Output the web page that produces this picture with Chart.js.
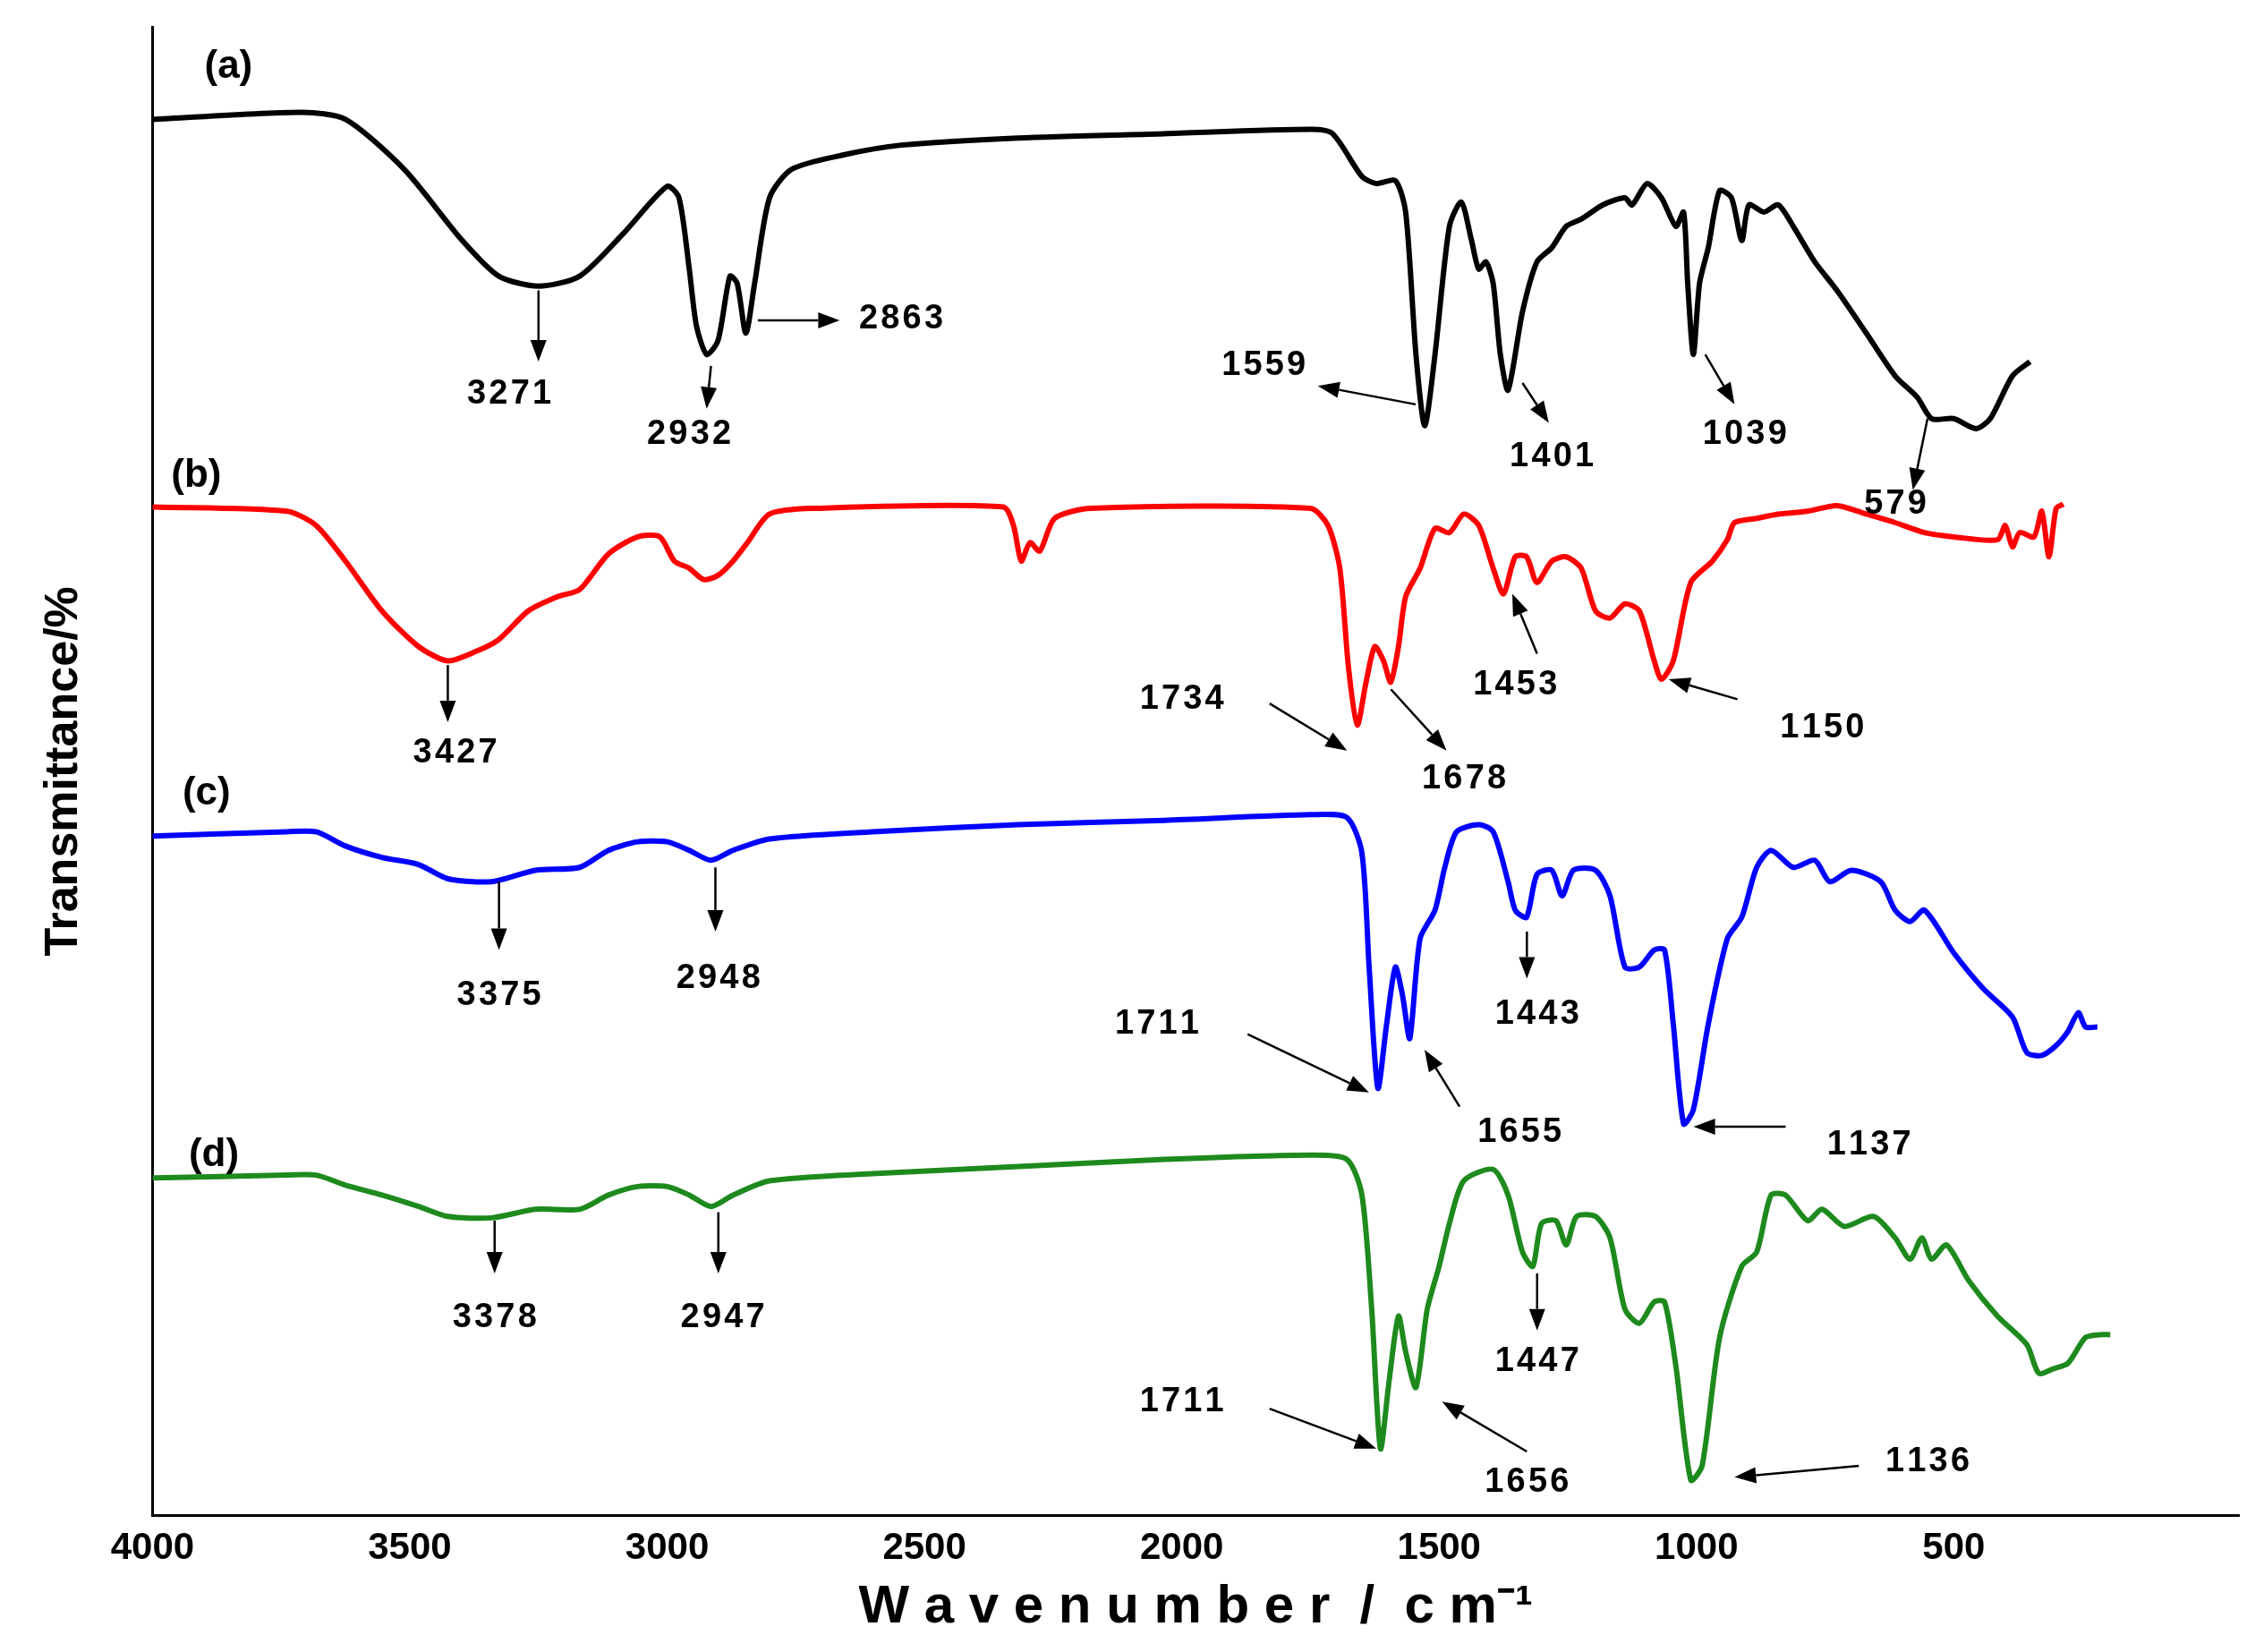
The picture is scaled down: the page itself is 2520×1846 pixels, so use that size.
<!DOCTYPE html>
<html><head><meta charset="utf-8">
<script src="https://cdn.jsdelivr.net/npm/chart.js@4/dist/chart.umd.min.js"></script>
<style>html,body{margin:0;padding:0;background:#fff}#w{width:2520px;height:1846px}</style>
</head><body><div id="w"><canvas id="c"></canvas></div>
<script>
const waveA=[4000,3710,3625,3511,3398,3327,3250,3170,3085,3000,2977,2957,2943,2923,2901,2878,2864,2847,2830,2801,2758,2659,2545,2318,2034,1750,1707,1650,1622,1585,1565,1545,1528,1508,1480,1457,1437,1423,1409,1395,1381,1366,1338,1310,1281,1253,1224,1182,1139,1125,1096,1068,1040,1025,1017,1006,994,977,955,932,912,898,869,841,812,770,727,670,614,571,543,500,457,429,386,352];
const transA=[980,985,980,945,895,870,863,870,900,933,925,875,835,815,825,870,865,830,865,925,945,955,962,967,970,973,970,940,935,937,915,815,765,815,905,922,895,875,880,865,815,790,845,880,890,905,910,920,925,920,935,925,905,915,865,815,865,890,930,925,895,920,915,920,905,880,860,830,800,785,770,770,763,770,800,810];
const waveB=[4000,3739,3682,3625,3554,3483,3426,3369,3327,3270,3213,3170,3114,3057,3014,2986,2957,2929,2901,2872,2844,2801,2716,2347,2327,2312,2295,2276,2247,2176,1750,1716,1693,1676,1659,1642,1625,1608,1594,1579,1565,1537,1508,1480,1452,1423,1395,1375,1352,1330,1310,1281,1253,1224,1196,1168,1139,1111,1082,1068,1045,1011,969,940,926,883,841,784,727,670,614,557,500,415,400,386,372,344,329,315,301,287];
const transB=[708,705,695,670,635,610,600,607,615,635,645,650,675,687,687,670,665,657,660,670,683,703,707,708,695,670,683,677,700,707,707,695,665,595,555,585,610,600,585,610,645,665,693,690,703,695,665,647,673,673,655,670,673,665,635,630,640,635,600,587,600,655,670,685,697,700,703,705,709,703,697,690,687,685,695,680,690,687,705,673,707,710];
const waveC=[4000,3739,3682,3625,3554,3483,3426,3341,3256,3170,3114,3057,3000,2957,2915,2872,2801,2602,2318,2034,1750,1679,1650,1636,1619,1602,1585,1571,1557,1537,1508,1489,1466,1423,1395,1366,1352,1330,1310,1281,1261,1239,1196,1168,1139,1111,1082,1062,1045,1025,1006,977,940,912,883,855,812,770,741,699,642,614,585,557,500,443,386,358,329,301,278,258,244,221];
const transC=[477,480,480,470,462,457,447,445,453,455,467,473,473,467,460,467,475,480,485,488,492,490,465,385,300,345,385,365,335,405,425,455,480,485,480,445,425,420,450,453,435,453,453,435,385,385,397,397,345,275,285,345,405,420,455,467,455,460,445,453,445,425,417,425,395,370,350,325,323,330,340,353,343,343];
const waveD=[4000,3739,3682,3625,3554,3483,3426,3341,3256,3170,3114,3057,3000,2957,2915,2872,2801,2602,2318,2034,1750,1679,1650,1631,1614,1597,1579,1565,1545,1523,1500,1480,1452,1395,1366,1338,1318,1301,1273,1253,1233,1196,1168,1139,1111,1082,1062,1040,1011,989,955,912,883,855,827,784,756,713,656,614,585,562,543,514,471,415,358,335,307,278,244,216,196];
const transD=[237,239,239,232,225,217,210,209,215,215,225,231,231,225,217,225,235,240,245,250,253,250,225,145,47,95,140,115,90,145,175,205,235,243,225,185,175,205,207,190,210,210,195,145,135,150,150,105,25,35,125,175,185,225,225,207,215,203,210,195,180,195,180,190,165,140,120,100,103,107,125,127,127];
const xTicks=[4000,3500,3000,2500,2000,1500,1000,500];
const seriesLabels=['(a)','(b)','(c)','(d)'];
const colors=['#000000','#ff0000','#0000ff','#1e8a1e'];
const wn=px=>4000-(px-108)*2.841, T=py=>1065-py;
const peakNotes=[
['3271',352,278,372,205,372,255],['2932',475,306,490,258,487,288],['2863',620,225,522,226,578,226],
['1559',868,258,972,285,905,272],['1401',1065,322,1045,270,1063,298],['1039',1197,306,1170,250,1190,285],
['579',1300,355,1322,295,1312,345],['3427',315,530,310,468,310,508],['1734',812,492,872,495,925,528],
['1678',1005,548,955,485,993,528],['1453',1040,482,1055,460,1038,418],['1150',1250,512,1192,492,1145,478],
['3375',345,700,345,620,345,668],['2948',495,688,493,610,493,655],['1711',795,720,857,727,940,768],
['1655',1043,796,1002,778,978,738],['1443',1055,713,1048,655,1048,688],['1137',1282,805,1225,792,1162,792],
['3378',342,926,342,858,342,895],['2947',498,926,495,852,495,895],['1711',812,985,872,990,945,1018],
['1656',1048,1042,1048,1020,990,985],['1447',1055,957,1055,895,1055,935],['1136',1322,1027,1275,1030,1190,1038]];
const seriesNotes=[['(a)',160,48],['(b)',138,335],['(c)',145,558],['(d)',150,812]];
const mk=(w,t)=>w.map((x,i)=>({x:x,y:t[i]}));
const FF='Arial, "Liberation Sans", sans-serif';
const annot={id:'annot',afterDatasetsDraw(ch){
 const c=ch.ctx,xs=ch.scales.x,ys=ch.scales.y;
 c.save();c.fillStyle='#000';c.strokeStyle='#000';c.textAlign='center';c.textBaseline='middle';
 c.font='bold 44px '+FF;
 for(const n of seriesNotes){c.fillText(n[0],xs.getPixelForValue(wn(n[1])),ys.getPixelForValue(T(n[2])));}
 c.font='bold 38px '+FF;
 const sp=s=>s.split('').join('\u200A');
 c.lineWidth=2.5;
 for(const n of peakNotes){
  c.fillText(sp(n[0]),xs.getPixelForValue(wn(n[1])),ys.getPixelForValue(T(n[2])));
  const x1=xs.getPixelForValue(wn(n[3])),y1=ys.getPixelForValue(T(n[4])),x2=xs.getPixelForValue(wn(n[5])),y2=ys.getPixelForValue(T(n[6]));
  const a=Math.atan2(y2-y1,x2-x1),L=24,H=9;
  const bx=x2-L*Math.cos(a),by=y2-L*Math.sin(a);
  c.beginPath();c.moveTo(x1,y1);c.lineTo(bx,by);c.stroke();
  c.beginPath();c.moveTo(x2,y2);c.lineTo(bx+H*Math.sin(a),by-H*Math.cos(a));c.lineTo(bx-H*Math.sin(a),by+H*Math.cos(a));c.closePath();c.fill();
 }
 c.restore();}};
new Chart(document.getElementById('c'),{type:'line',
 data:{datasets:[mk(waveA,transA),mk(waveB,transB),mk(waveC,transC),mk(waveD,transD)].map((d,i)=>({label:seriesLabels[i],data:d,borderColor:colors[i],borderWidth:6,pointRadius:0,tension:0.25,fill:false}))},
 options:{responsive:true,maintainAspectRatio:false,animation:false,devicePixelRatio:1,
  layout:{padding:{top:30,right:18,bottom:10,left:36}},
  plugins:{legend:{display:false},tooltip:{enabled:false}},
  scales:{
   x:{type:'linear',reverse:true,min:-54,max:4000,grid:{display:false},border:{color:'#000',width:3},
    afterBuildTicks:ax=>{ax.ticks=xTicks.map(v=>({value:v}));},
    ticks:{color:'#000',font:{size:42,weight:'bold',family:FF},maxRotation:0,padding:4,callback:v=>String(v)},
    title:{display:true,text:'W a v e n u m b e r  /  c m⁻¹',color:'#000',font:{size:60,weight:'bold',family:FF},padding:{top:0}}},
   y:{min:0,max:1045,grid:{display:false},border:{color:'#000',width:3},ticks:{display:false},
    title:{display:true,text:'Transmittance/%',color:'#000',font:{size:52,weight:'bold',family:FF},padding:{bottom:60}}}
  }},plugins:[annot]});
</script></body></html>
